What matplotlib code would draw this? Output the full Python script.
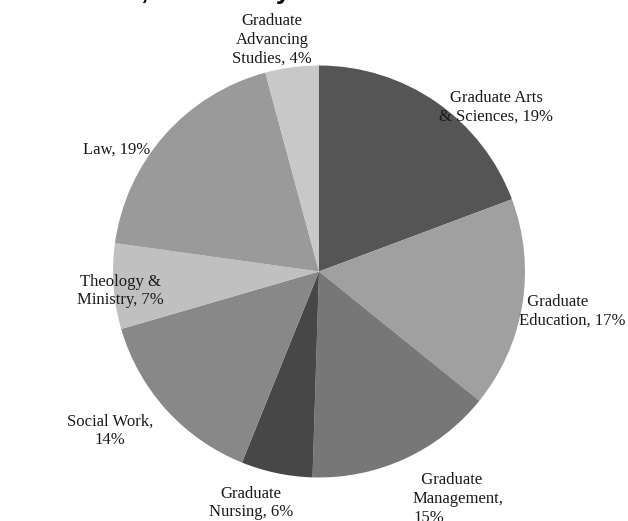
import matplotlib
matplotlib.use("Agg")
import matplotlib.pyplot as plt

# ---- data ----
schools = ["Graduate Arts\n& Sciences", "Graduate\nEducation", "Graduate\nManagement", "Graduate\nNursing",
           "Social Work", "Theology &\nMinistry", "Law", "Graduate\nAdvancing\nStudies"]
shares = [19.3, 16.5, 14.7, 5.6, 14.4, 6.7, 18.6, 4.2]
pct_labels = ["19%", "17%", "15%", "6%", "14%", "7%", "19%", "4%"]
title = "Graduate Enrollment, 2013-14 by School"

# ---- style ----
colors = ["#555555", "#A0A0A0", "#777777", "#474747", "#888888", "#C0C0C0", "#9A9A9A", "#C8C8C8"]
W, H = 628, 521
# separator between name and percentage, label anchor (px from top-left), alignment
label_layout = [(", ", (496, 107), "center"), (", ", (519, 311), "left"), (",\n", (413, 499), "left"),
                (", ", (251, 503), "center"), (",\n", (110, 431), "center"), (", ", (120, 291), "center"),
                (", ", (117, 150), "center"), (", ", (272, 40), "center")]
lead = {1: "  ", 2: "  "}

fig = plt.figure(figsize=(W / 100, H / 100), dpi=100)
ax = fig.add_axes([0, 0, 1, 1])

ax.pie(shares, colors=colors, startangle=90, counterclock=False,
       center=(319, H - 271.5), radius=206, frame=True,
       wedgeprops=dict(linewidth=0))
ax.set_xlim(0, W)
ax.set_ylim(0, H)
ax.set_aspect("equal")
ax.axis("off")

for i, (name, pct, (sep, (x, y), ha)) in enumerate(zip(schools, pct_labels, label_layout)):
    txt = lead.get(i, "") + name + sep + pct
    ax.text(x, H - y, txt, ha=ha, va="center", multialignment=ha,
            fontsize=12, family="Liberation Serif", color="#1a1a1a", linespacing=1.25)

fig.text(-120 / W, 1 + 1 / H, title, ha="left", va="baseline",
         fontsize=19, fontweight="bold", family="Liberation Sans", color="black")

fig.savefig("out.png", dpi=100)
